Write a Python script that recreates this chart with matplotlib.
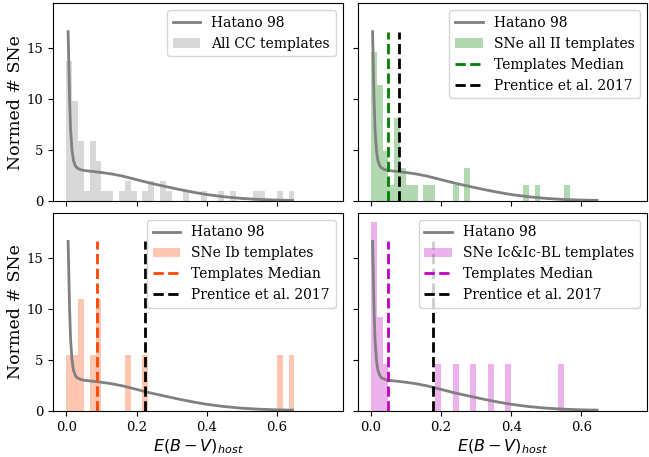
import numpy as np
import matplotlib
matplotlib.use('Agg')
import matplotlib.pyplot as plt

plt.rcParams['font.family'] = 'DejaVu Serif'
plt.rcParams['mathtext.fontset'] = 'dejavusans'

# histogram bins of E(B-V)_host, width 1/60
bin_edges = np.linspace(0.0, 0.65, 40)

# number of templates per bin
ii_counts = [9, 7, 3, 1, 5, 2, 1, 1, 0, 1, 1, 0, 0, 0, 1, 0, 2, 0, 0, 0,
             0, 0, 0, 0, 0, 0, 1, 0, 1, 0, 0, 0, 0, 1, 0, 0, 0, 0, 0]
ib_counts = [1, 1, 2, 0, 1, 2, 0, 0, 0, 0, 1, 0, 0, 1, 0, 0, 0, 0, 0, 0,
             0, 0, 0, 0, 0, 0, 0, 0, 0, 0, 0, 0, 0, 0, 0, 0, 1, 0, 1]
ic_counts = [4, 2, 1, 0, 0, 0, 0, 0, 0, 0, 0, 1, 0, 0, 1, 0, 0, 1, 0, 0,
             1, 0, 0, 1, 0, 0, 0, 0, 0, 0, 0, 0, 1, 0, 0, 0, 0, 0, 0]

# Hatano 98 model curve
hatano_x = [0.005, 0.007, 0.009, 0.012, 0.016, 0.02, 0.025, 0.03, 0.04, 0.05,
            0.07, 0.1, 0.13, 0.16, 0.2, 0.24, 0.28, 0.32, 0.36, 0.4,
            0.45, 0.5, 0.55, 0.6, 0.645]
hatano_y = [16.6, 13.4, 10.2, 7.0, 5.0, 4.0, 3.5, 3.25, 3.08, 3.0,
            2.92, 2.8, 2.65, 2.45, 2.1, 1.75, 1.45, 1.15, 0.88, 0.64,
            0.42, 0.26, 0.16, 0.1, 0.07]

# medians of the templates and Prentice et al. 2017 values
median_ii, median_ib, median_ic = 0.05, 0.088, 0.05
prentice_ii, prentice_ib, prentice_ic = 0.081, 0.224, 0.176

all_counts = np.array(ii_counts) + np.array(ib_counts) + np.array(ic_counts)
centers = 0.5 * (bin_edges[1:] + bin_edges[:-1])

panels = [
    (all_counts, 'gray', 'All CC templates', None, None),
    (ii_counts, 'g', 'SNe all II templates', median_ii, prentice_ii),
    (ib_counts, 'orangered', 'SNe Ib templates', median_ib, prentice_ib),
    (ic_counts, 'm', 'SNe Ic&Ic-BL templates', median_ic, prentice_ic),
]

fig, axes = plt.subplots(2, 2, sharex=True, sharey=True, figsize=(6.49, 4.57), dpi=100)
fig.subplots_adjust(left=0.082, right=0.997, top=0.993, bottom=0.101,
                    wspace=0.052, hspace=0.06)

ymax = max(hatano_y)
for ax, (counts, col, lab, med, pren) in zip(axes.flat, panels):
    l1, = ax.plot(hatano_x, hatano_y, color='gray', lw=2, label='Hatano 98')
    _, _, bars = ax.hist(centers, bins=bin_edges, weights=counts, density=True,
                         color=col, alpha=0.3, label=lab)
    handles = [l1, bars[0]]
    labels = ['Hatano 98', lab]
    if med is not None:
        l2 = ax.vlines(med, 0, ymax, colors=col, linestyles='--', lw=2)
        l3 = ax.vlines(pren, 0, ymax, colors='k', linestyles='--', lw=2)
        handles += [l2, l3]
        labels += ['Templates Median', 'Prentice et al. 2017']
    ax.legend(handles, labels, loc='upper right', fontsize=10)
    ax.tick_params(labelsize=9.5)

axes[0, 0].set_xlim(-0.0375, 0.7875)
axes[0, 0].set_xticks([0.0, 0.2, 0.4, 0.6])
axes[0, 0].set_yticks([0, 5, 10, 15])
axes[0, 0].set_ylabel('Normed # SNe', fontsize=12.5, labelpad=2)
axes[1, 0].set_ylabel('Normed # SNe', fontsize=12.5, labelpad=2)
axes[1, 0].set_xlabel(r'$E(B-V)_{host}$', fontsize=11.5, labelpad=3)
axes[1, 1].set_xlabel(r'$E(B-V)_{host}$', fontsize=11.5, labelpad=3)

fig.savefig('out.png', dpi=100)
